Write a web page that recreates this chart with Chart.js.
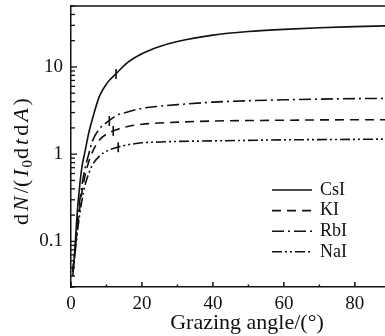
<!DOCTYPE html>
<html>
<head>
<meta charset="utf-8">
<script src="https://cdn.jsdelivr.net/npm/chart.js@4.4.0/dist/chart.umd.min.js"></script>
<style>
  html, body { margin: 0; padding: 0; background: #fff; }
  canvas { display: block; }
</style>
</head>
<body>
<canvas id="chart" width="385" height="336"></canvas>
<script>
// grazing angle (deg)
const angles = [0.5, 1, 1.5, 2, 3, 4, 5, 6, 8, 10, 13, 16, 20, 25, 30, 40, 50, 60, 70, 80, 88.5];

const csI = [0.045, 0.07, 0.15, 0.28, 0.68, 1.1, 1.75, 2.5, 4.6, 6.4, 8.6, 11.3, 14.2, 17.2, 19.6, 23.2, 25.5, 27, 28.2, 29, 29.6];
const kI  = [0.045, 0.07, 0.11, 0.17, 0.35, 0.58, 0.82, 1.05, 1.45, 1.7, 1.92, 2.08, 2.2, 2.28, 2.33, 2.4, 2.43, 2.45, 2.47, 2.48, 2.48];
const rbI = [0.045, 0.07, 0.12, 0.2, 0.42, 0.7, 1.0, 1.4, 1.95, 2.3, 2.8, 3.05, 3.35, 3.55, 3.7, 3.95, 4.1, 4.2, 4.28, 4.33, 4.36];
const naI = [0.04, 0.065, 0.1, 0.15, 0.28, 0.45, 0.6, 0.75, 0.95, 1.08, 1.2, 1.28, 1.35, 1.38, 1.4, 1.42, 1.44, 1.46, 1.47, 1.48, 1.49];

// the short vertical marks on each curve
const markX = [12.7, 11.9, 10.8, 13.3];
const markY = [8.3, 1.85, 2.4, 1.2];

const seriesNames = ['CsI', 'KI', 'RbI', 'NaI'];
const xTicks = [0, 20, 40, 60, 80];
const yTicks = [0.1, 1, 10];

const FONT = '"Liberation Serif", "DejaVu Serif", serif';

function pts(ys) {
    return angles.map((x, i) => ({ x: x, y: ys[i] }));
}

const dashes = [[], [9, 6], [12, 4, 2, 4], [10, 3, 2, 3, 2, 3]];

const datasets = [csI, kI, rbI, naI].map((ys, i) => ({
    label: seriesNames[i],
    data: pts(ys),
    borderColor: '#111',
    borderWidth: 1.6,
    borderDash: dashes[i],
    pointRadius: 0,
    cubicInterpolationMode: 'monotone',
    fill: false
}));

datasets.push({
    label: 'marks',
    data: markX.map((x, i) => ({ x: x, y: markY[i] })),
    showLine: false,
    pointStyle: 'line',
    rotation: 90,
    pointRadius: 5,
    borderColor: '#111',
    borderWidth: 1.6
});

// inward ticks, top frame, axis titles and legend
const extras = {
    id: 'extras',
    afterDraw(chart) {
        const ctx = chart.ctx;
        const a = chart.chartArea;
        const xs = chart.scales.x, ys = chart.scales.y;
        ctx.save();
        ctx.strokeStyle = '#111';
        ctx.fillStyle = '#111';
        ctx.lineWidth = 1.5;

        // top frame
        ctx.beginPath();
        ctx.moveTo(a.left, a.top);
        ctx.lineTo(a.right, a.top);
        ctx.stroke();

        // x ticks
        for (let v = 0; v <= 88; v += 10) {
            const px = xs.getPixelForValue(v);
            const len = v % 20 === 0 ? 5 : 2.5;
            ctx.beginPath();
            ctx.moveTo(px, a.bottom);
            ctx.lineTo(px, a.bottom - len);
            ctx.stroke();
        }

        // y ticks (log decades)
        ctx.lineWidth = 1.3;
        for (let d = -2; d <= 1; d++) {
            for (let m = 1; m <= 9; m++) {
                const v = m * Math.pow(10, d);
                if (v < ys.min || v > ys.max) continue;
                const py = ys.getPixelForValue(v);
                const len = m === 1 ? 6 : 4;
                ctx.beginPath();
                ctx.moveTo(a.left, py);
                ctx.lineTo(a.left + len, py);
                ctx.stroke();
            }
        }

        // x title
        ctx.font = '22px ' + FONT;
        ctx.textAlign = 'center';
        ctx.textBaseline = 'middle';
        ctx.fillText('Grazing angle/(°)', 247, 323);

        // y title, rotated, with italic parts
        const parts = [
            ['d', ''], ['N', 'italic '], ['/(', ''], ['I', 'italic '], ['0', 'sub'],
            ['d', ''], ['t', 'italic '], ['d', ''], ['A', 'italic '], [')', '']
        ];
        ctx.translate(22, 160);
        ctx.rotate(-Math.PI / 2);
        let total = 0;
        const gap = 3;
        const widths = parts.map(p => {
            ctx.font = p[1] === 'sub' ? '15px ' + FONT : p[1] + '22px ' + FONT;
            const w = ctx.measureText(p[0]).width + (p[1] === 'sub' ? 0 : gap);
            total += w;
            return w;
        });
        let cx = -total / 2;
        ctx.textAlign = 'left';
        parts.forEach((p, i) => {
            if (p[1] === 'sub') {
                ctx.font = '15px ' + FONT;
                ctx.fillText(p[0], cx - 1, 6);
            } else {
                ctx.font = p[1] + '22px ' + FONT;
                ctx.fillText(p[0], cx, 0);
            }
            cx += widths[i];
        });
        ctx.setTransform(1, 0, 0, 1, 0, 0);

        // legend
        ctx.font = '18px ' + FONT;
        ctx.textAlign = 'left';
        ctx.textBaseline = 'middle';
        for (let i = 0; i < 4; i++) {
            const y = 190 + i * 20.6;
            const ds = chart.data.datasets[i];
            ctx.lineWidth = ds.borderWidth;
            ctx.setLineDash(ds.borderDash);
            ctx.beginPath();
            ctx.moveTo(272, y);
            ctx.lineTo(312, y);
            ctx.stroke();
            ctx.setLineDash([]);
            ctx.fillText(seriesNames[i], 320, y);
        }
        ctx.restore();
    }
};

new Chart(document.getElementById('chart'), {
    type: 'line',
    data: { datasets: datasets },
    options: {
        responsive: false,
        animation: false,
        layout: { autoPadding: false, padding: { top: 6, right: 0, left: 0, bottom: 0 } },
        plugins: {
            legend: { display: false },
            tooltip: { enabled: false }
        },
        scales: {
            x: {
                type: 'linear',
                min: 0,
                max: 88.5,
                afterBuildTicks: s => { s.ticks = xTicks.map(v => ({ value: v })); },
                afterFit: s => { s.height = 49; s.paddingLeft = 0; s.paddingRight = 0; },
                grid: { display: false, drawTicks: false },
                border: { display: true, color: '#111', width: 1.5 },
                ticks: {
                    color: '#111',
                    padding: 6,
                    maxRotation: 0,
                    font: { family: FONT, size: 19 }
                }
            },
            y: {
                type: 'logarithmic',
                min: 0.03,
                max: 50,
                afterBuildTicks: s => { s.ticks = yTicks.map(v => ({ value: v })); },
                afterFit: s => { s.width = 71; s.paddingTop = 0; s.paddingBottom = 0; },
                grid: { display: false, drawTicks: false },
                border: { display: true, color: '#111', width: 1.5 },
                ticks: {
                    color: '#111',
                    padding: 8,
                    font: { family: FONT, size: 19 },
                    callback: v => String(v)
                }
            }
        }
    },
    plugins: [extras]
});
</script>
</body>
</html>
